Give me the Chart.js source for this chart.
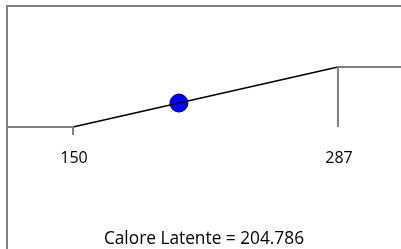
<!DOCTYPE html>
<html><head><meta charset="utf-8">
<script src="https://cdn.jsdelivr.net/npm/chart.js@4/dist/chart.umd.min.js"></script>
<style>
html,body{margin:0;padding:0;background:#fff;}
#wrap{position:relative;width:401px;height:249px;overflow:hidden;}
#frame{position:absolute;left:6px;top:5px;width:420px;height:260px;border-top:2px solid #808080;border-left:2px solid #808080;}
canvas{position:absolute;left:0;top:0;}
</style></head>
<body><div id="wrap"><div id="frame"></div><canvas id="c" width="401" height="249"></canvas></div>
<script>
const tickValues = [150, 287];
const levelValues = [0, 1];
const latentLabel = "Calore Latente";
const latentValue = 204.786;
const leftStart = 116;
const rightEnd = 330;
const tickDrop = -0.133;

const latentY = levelValues[0] + (latentValue - tickValues[0]) / (tickValues[1] - tickValues[0]) * (levelValues[1] - levelValues[0]);

const gray = '#808080';
const datasets = [
  {data:[{x:leftStart,y:levelValues[0]},{x:tickValues[0],y:levelValues[0]},{x:tickValues[0],y:tickDrop}], borderColor:gray, borderWidth:2},
  {data:[{x:tickValues[1],y:levelValues[0]},{x:tickValues[1],y:levelValues[1]},{x:rightEnd,y:levelValues[1]}], borderColor:gray, borderWidth:2},
  {data:[{x:tickValues[0],y:levelValues[0]},{x:tickValues[1],y:levelValues[1]}], borderColor:'#000', borderWidth:1.5},
  {data:[{x:latentValue,y:latentY}], showLine:false, pointRadius:9, pointBackgroundColor:'#0000ff', borderColor:'#000080', pointBorderWidth:1}
].map(d=>Object.assign({showLine:true, pointRadius:0, fill:false, tension:0}, d));

const labelPlugin = {
  id:'labels',
  afterDatasetsDraw(chart){
    const ctx = chart.ctx, xs = chart.scales.x, ys = chart.scales.y;
    ctx.save();
    ctx.fillStyle = '#000';
    ctx.font = '16px "Open Sans", sans-serif';
    ctx.textAlign = 'center';
    ctx.textBaseline = 'alphabetic';
    const base = ys.getPixelForValue(levelValues[0]);
    tickValues.forEach(v => ctx.fillText(String(v), xs.getPixelForValue(v) + 1, base + 36));
    ctx.font = '17.3px "Open Sans", sans-serif';
    ctx.fillText(latentLabel + ' = ' + latentValue, xs.getPixelForValue(latentValue) + 25, base + 117);
    ctx.restore();
  }
};

new Chart(document.getElementById('c'), {
  type:'scatter',
  data:{datasets},
  options:{
    responsive:false, animation:false,
    layout:{padding:0, autoPadding:false},
    plugins:{legend:{display:false}, tooltip:{enabled:false}},
    scales:{
      x:{type:'linear', display:false, min:112.26, max:319.6},
      y:{type:'linear', display:false, min:-2.033, max:2.117}
    }
  },
  plugins:[labelPlugin]
});
</script></body></html>
